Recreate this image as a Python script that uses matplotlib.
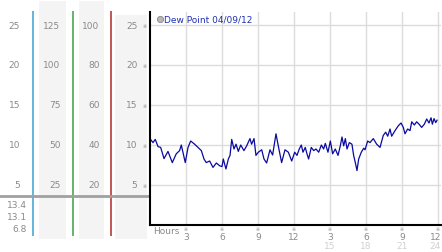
"""Dew point day chart with the side scale panel, drawn at 442x253 px."""

import matplotlib
matplotlib.use("Agg")
import matplotlib.pyplot as plt
from matplotlib.lines import Line2D
from matplotlib.transforms import blended_transform_factory

# --- data ------------------------------------------------------------------

hours = [
    0.0, 0.25, 0.44, 0.67, 0.89, 1.17, 1.5, 1.86, 2.19, 2.47, 2.61, 2.94,
    3.17, 3.39, 3.72, 4.0, 4.28, 4.5, 4.69, 4.97, 5.25, 5.53, 5.81, 6.0,
    6.11, 6.33, 6.53, 6.67, 6.81, 7.0, 7.17, 7.36, 7.56, 7.83, 8.06, 8.33,
    8.47, 8.67, 8.83, 9.03, 9.31, 9.5, 9.72, 10.0, 10.22, 10.5, 10.69, 10.97,
    11.25, 11.53, 11.81, 12.06, 12.25, 12.44, 12.61, 12.75, 12.94, 13.08,
    13.22, 13.44, 13.64, 13.83, 14.06, 14.28, 14.47, 14.61, 14.83, 15.03,
    15.22, 15.44, 15.67, 15.86, 16.0, 16.14, 16.28, 16.42, 16.61, 16.83,
    16.97, 17.11, 17.25, 17.39, 17.61, 17.81, 17.92, 18.14, 18.33, 18.61,
    18.89, 19.17, 19.44, 19.64, 19.81, 20.0, 20.14, 20.42, 20.69, 20.92,
    21.11, 21.25, 21.47, 21.67, 21.81, 22.03, 22.22, 22.42, 22.64, 22.86,
    23.06, 23.25, 23.42, 23.53, 23.67, 23.81, 23.92,
]
dew_point = [
    10.8, 10.3, 10.7, 9.8, 9.7, 8.3, 9.2, 7.8, 8.9, 9.3, 10.0, 7.8,
    9.7, 10.5, 10.1, 9.7, 9.3, 8.25, 7.8, 8.0, 7.2, 7.75, 7.4, 7.3,
    8.25, 7.0, 8.25, 8.7, 10.7, 9.5, 10.1, 9.2, 10.0, 9.3, 9.9, 10.8,
    10.1, 10.8, 8.7, 9.1, 9.4, 8.25, 7.75, 9.4, 8.75, 11.4, 9.9, 7.8,
    9.4, 9.1, 8.0, 9.1, 8.7, 9.5, 10.0, 9.1, 9.7, 8.9,
    8.25, 9.7, 9.3, 9.5, 9.1, 10.0, 9.5, 10.2, 9.1, 10.5,
    8.9, 9.5, 8.7, 9.9, 11.0, 9.9, 10.8, 9.5, 10.3, 10.1,
    8.7, 7.8, 6.8, 8.25, 9.1, 9.6, 9.4, 10.5, 10.3, 10.8,
    10.1, 9.7, 11.2, 11.6, 11.1, 12.0, 11.1, 11.8, 12.4, 12.75,
    12.2, 11.4, 12.0, 11.8, 12.9, 12.5, 12.9, 12.6, 12.2, 12.6,
    13.25, 12.75, 13.4, 12.6, 13.3, 12.8, 13.1,
]

legend_label = "Dew Point 04/09/12"
y_ticks = [25, 20, 15, 10, 5]
scale_left = ["25", "20", "15", "10", "5"]
scale_pct = ["125", "100", "75", "50", "25"]
scale_mid = ["100", "80", "60", "40", "20"]
scale_dew = ["25", "20", "15", "10", "5"]
stats = ["13.4", "13.1", "6.8"]  # max, current, min

x_ticks = [3, 6, 9, 12, 15, 18, 21, 24]
x_labels = ["3", "6", "9", "12", "3", "6", "9", "12"]
x_labels_24h = ["15", "18", "21", "24"]

# --- styling ---------------------------------------------------------------

W, H = 442, 253
GRAY = "#8a8a8a"
GRID = "#dcdcdc"
LINE = "#0a0aa0"
FS = 6.5

fig = plt.figure(figsize=(W / 100, H / 100), dpi=100)


def px_box(x0, y0, x1, y1):
    """Figure rect from pixel coords (origin top-left)."""
    return [x0 / W, 1 - y1 / H, (x1 - x0) / W, (y1 - y0) / H]


# --- left scale panel --------------------------------------------------------
# shares the value scale of the main chart: 0 at 226 px, 8 px per degree
panel = fig.add_axes(px_box(0, 0, 149, H))
panel.set_xlim(0, 149)
panel.set_ylim(-27 / 8, 226 / 8)
panel.axis("off")

for x0, x1, top in [(39, 66, 28.0), (79, 104, 28.0), (115, 147, 26.3)]:
    panel.fill_between([x0, x1], -1.75, top, color="#f4f4f4", lw=0)

for x, c in [(33, "#3aa0d0"), (72.5, "#3aa040"), (111, "#b02828")]:
    panel.plot([x, x], [-1.4, 26.75], color=c, lw=1.1, solid_capstyle="butt")

panel.axhline(3.6, color="#a0a0a0", lw=2)

for v, a, b, c, d in zip(y_ticks, scale_left, scale_pct, scale_mid, scale_dew):
    kw = dict(fontsize=FS, color=GRAY, ha="right", va="center")
    panel.text(20, v, a, **kw)
    panel.text(60.5, v, b, **kw)
    panel.text(99.5, v, c, **kw)
    panel.text(137.5, v, d, **kw)
    panel.text(145, v, "※", fontsize=3.5, color=GRAY, ha="center", va="center")

for v, s in zip([2.6, 1.0, -0.5], stats):
    panel.text(27, v, s, fontsize=FS, color=GRAY, ha="right", va="center")

# --- main chart ------------------------------------------------------------

ax = fig.add_axes(px_box(149.5, 13, 441, 226))
ax.set_xlim(-0.04, 24.25)
ax.set_ylim(0, 213 / 8)
ax.plot(hours, dew_point, color=LINE, lw=0.9)

ax.set_yticks(y_ticks)
ax.set_xticks(x_ticks)
ax.grid(True, color=GRID, lw=1)
ax.set_axisbelow(True)
ax.tick_params(length=0, labelleft=False, labelbottom=False)
for side in ("top", "right"):
    ax.spines[side].set_visible(False)
for side in ("left", "bottom"):
    ax.spines[side].set_linewidth(1.5)
    ax.spines[side].set_color("black")

tr = blended_transform_factory(ax.transData, fig.transFigure)
for h, lab in zip(x_ticks, x_labels):
    # last label hugs the right edge, as in the source image
    ha, hx = ("right", h + 0.25) if h == x_ticks[-1] else ("center", h)
    ax.text(h, 1 - 230 / H, "※", fontsize=3.5, color=GRAY, ha="center",
            va="center", transform=tr)
    ax.text(hx, 1 - 238 / H, lab, fontsize=FS, color=GRAY, ha=ha,
            va="center", transform=tr)
for h, lab in zip(x_ticks[4:], x_labels_24h):
    ha, hx = ("right", h + 0.25) if h == x_ticks[-1] else ("center", h)
    ax.text(hx, 1 - 247 / H, lab, fontsize=FS, color="#d0d0d0", ha=ha,
            va="center", transform=tr)
fig.text(153 / W, 1 - 232 / H, "Hours", fontsize=FS, color=GRAY,
         ha="left", va="center")

# legend
fig.add_artist(Line2D([160 / W], [1 - 20 / H], transform=fig.transFigure,
                      marker="o", markersize=4.5, markerfacecolor="#b8b8b8",
                      markeredgecolor="#888888", markeredgewidth=0.6, lw=0))
fig.text(164 / W, 1 - 20 / H, legend_label, fontsize=FS, color="#2030b0",
         ha="left", va="center")

fig.savefig("out.png", dpi=100, facecolor="white")
